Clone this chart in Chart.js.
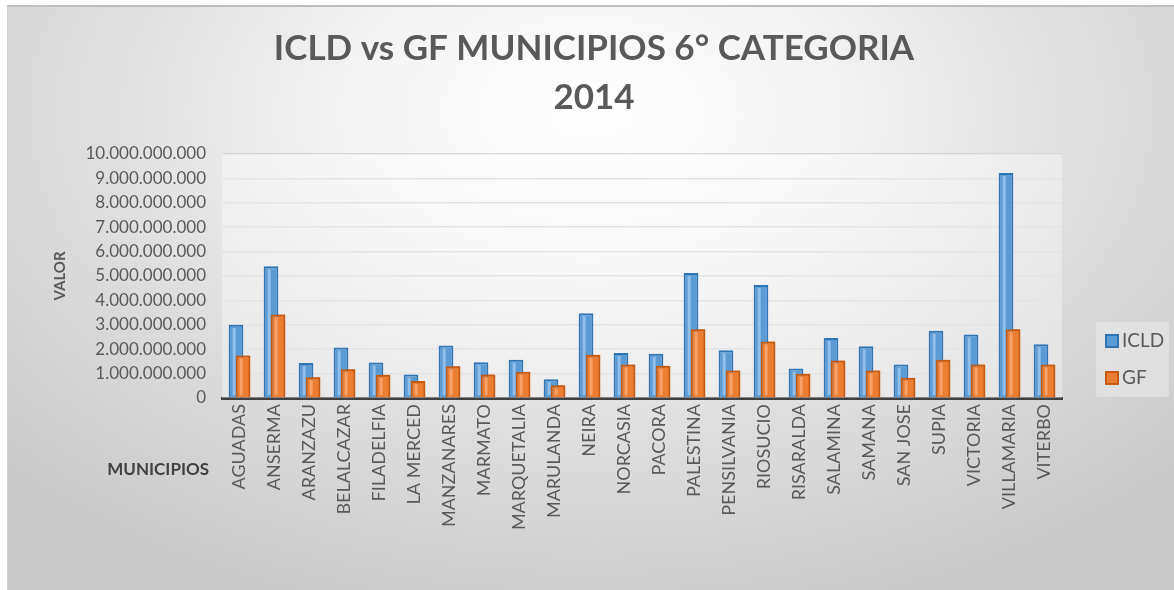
<!DOCTYPE html>
<html>
<head>
<meta charset="utf-8">
<script src="https://cdn.jsdelivr.net/npm/chart.js@4"></script>
<style>
  html, body { margin: 0; padding: 0; background: #ffffff; }
  #wrap { position: relative; width: 1174px; height: 590px; overflow: hidden; }
  #bg {
    position: absolute; left: 7px; top: 5px; right: 0; bottom: 0;
    border-top: 2px solid #bdbdbd; border-left: 1px solid #d4d4d4;
    background: radial-gradient(ellipse 70% 90% at 50% 18%, #ffffff 0%, #f3f3f3 30%, #dcdcdc 65%, #c9c9c9 100%);
  }
  #chart { position: absolute; left: 0; top: 0; }
  #legend {
    position: absolute; left: 1096px; top: 322px; width: 73px; height: 75px;
    background: rgba(255,255,255,0.3);
    font-family: Lato, sans-serif; font-size: 19px; color: #595959;
  }
  .item { position: absolute; left: 9px; height: 20px; line-height: 20px; }
  .item span.box { display: inline-block; width: 10px; height: 10px; border: 2px solid; vertical-align: -1px; margin-right: 3px; }
</style>
</head>
<body>
<div id="wrap">
  <div id="bg"></div>
  <canvas id="chart" width="1174" height="590"></canvas>
  <div id="legend">
    <div class="item" style="top:8px"><span class="box" style="background:#5B9BD5;border-color:#2E75B6"></span>ICLD</div>
    <div class="item" style="top:45px"><span class="box" style="background:#ED7D31;border-color:#C55A11"></span>GF</div>
  </div>
</div>
<script>
const municipios = ["AGUADAS", "ANSERMA", "ARANZAZU", "BELALCAZAR", "FILADELFIA", "LA MERCED",
  "MANZANARES", "MARMATO", "MARQUETALIA", "MARULANDA", "NEIRA", "NORCASIA", "PACORA",
  "PALESTINA", "PENSILVANIA", "RIOSUCIO", "RISARALDA", "SALAMINA", "SAMANA", "SAN JOSE",
  "SUPIA", "VICTORIA", "VILLAMARIA", "VITERBO"];

const icld = [3000000000, 5400000000, 1430000000, 2070000000, 1450000000, 960000000,
  2150000000, 1470000000, 1570000000, 770000000, 3470000000, 1840000000, 1810000000,
  5120000000, 1960000000, 4630000000, 1210000000, 2460000000, 2120000000, 1370000000,
  2760000000, 2600000000, 9220000000, 2200000000];

const gf = [1740000000, 3420000000, 850000000, 1180000000, 950000000, 700000000,
  1300000000, 960000000, 1080000000, 520000000, 1770000000, 1370000000, 1320000000,
  2820000000, 1130000000, 2320000000, 990000000, 1540000000, 1130000000, 830000000,
  1570000000, 1370000000, 2820000000, 1370000000];

const titulo = ["ICLD vs GF MUNICIPIOS 6° CATEGORIA", "2014"];
const yMax = 10000000000;
const yStep = 1000000000;

// miles con punto
function fmt(v) {
  return String(Math.round(v)).replace(/\B(?=(\d{3})+(?!\d))/g, ".");
}

const brillo = ["rgba(160,200,238,0.8)", "rgba(250,170,120,0.8)"];

function rayas(ctx, meta, color) {
  ctx.fillStyle = color;
  meta.data.forEach((bar) => {
    const x0 = bar.x - bar.width / 2;
    ctx.fillRect(x0 + 4, bar.y + 3, 3, bar.base - bar.y - 5);
  });
}

// fondo claro del area, barras GF delante, titulo y rotulo del eje x
const extras = {
  id: "extras",
  beforeDatasetsDraw(chart) {
    const { ctx, chartArea } = chart;
    ctx.save();
    ctx.fillStyle = "rgba(255,255,255,0.35)";
    ctx.fillRect(chartArea.left, chartArea.top, chartArea.right - chartArea.left, chartArea.bottom - chartArea.top);
    ctx.restore();
  },
  afterDatasetsDraw(chart) {
    const { ctx } = chart;
    const m0 = chart.getDatasetMeta(0);
    const m1 = chart.getDatasetMeta(1);
    ctx.save();
    rayas(ctx, m0, brillo[0]);
    // GF va delante de ICLD, como en la grafica 3D
    m1.data.forEach((bar) => bar.draw(ctx));
    rayas(ctx, m1, brillo[1]);
    ctx.restore();
  },
  afterDraw(chart) {
    const { ctx } = chart;
    ctx.save();
    ctx.fillStyle = "#595959";
    ctx.textAlign = "center";
    ctx.textBaseline = "middle";
    ctx.font = "bold 35px Lato, sans-serif";
    ctx.fillText(titulo[0], 594, 49);
    ctx.fillText(titulo[1], 594, 98);
    ctx.fillStyle = "#404040";
    ctx.font = "bold 17px Lato, sans-serif";
    ctx.textAlign = "right";
    ctx.fillText("MUNICIPIOS", 209, 470);
    ctx.restore();
  }
};

const ctx = document.getElementById("chart").getContext("2d");

new Chart(ctx, {
  type: "bar",
  data: {
    labels: municipios,
    datasets: [{
      label: "ICLD",
      data: icld,
      backgroundColor: "#5B9BD5",
      borderColor: "#2E75B6",
      borderWidth: 2
    }, {
      label: "GF",
      data: gf,
      backgroundColor: "#ED7D31",
      borderColor: "#C55A11",
      borderWidth: 2
    }]
  },
  options: {
    responsive: false,
    animation: false,
    layout: { padding: { left: 0, right: 112, top: 154, bottom: 0 } },
    datasets: {
      bar: { categoryPercentage: 0.4, barPercentage: 2.1 }
    },
    plugins: {
      legend: { display: false },
      tooltip: { enabled: false },
      title: { display: false }
    },
    scales: {
      x: {
        grid: { display: false, drawTicks: false },
        border: { display: true, color: "#404040", width: 3 },
        ticks: {
          color: "#595959",
          font: { family: "Lato, sans-serif", size: 18 },
          minRotation: 90, maxRotation: 90,
          autoSkip: false,
          padding: 6
        },
        afterFit(scale) { scale.height = 192; }
      },
      y: {
        min: 0,
        max: yMax,
        grid: { color: "#d6d6d6", lineWidth: 1.5, drawTicks: false },
        border: { display: false },
        ticks: {
          stepSize: yStep,
          color: "#595959",
          font: { family: "Lato, sans-serif", size: 17 },
          padding: 16,
          callback: (v) => fmt(v)
        },
        title: {
          display: true,
          text: "VALOR",
          color: "#595959",
          font: { family: "Lato, sans-serif", size: 15, weight: "bold" },
          padding: { top: 51, bottom: 0 }
        },
        afterFit(scale) { scale.width = 222; }
      }
    }
  },
  plugins: [extras]
});
</script>
</body>
</html>
